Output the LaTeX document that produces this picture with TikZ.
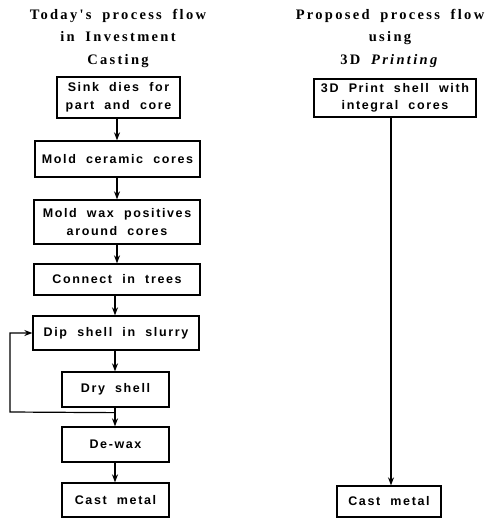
\documentclass[tikz,border=0pt]{standalone}
\usepackage{fontspec}
\setmainfont{Liberation Sans}
\newfontfamily\titlefont[LetterSpace=16,WordSpace=1.8]{Liberation Serif}
\newfontfamily\boxfont[LetterSpace=13,WordSpace=2.0]{Liberation Sans}
\usetikzlibrary{arrows.meta}
\begin{document}
\begin{tikzpicture}[x=1pt,y=-1pt,
  box/.style={draw, line width=1.3pt, align=center, inner sep=0pt,
    font=\boxfont\bfseries\fontsize{12.5}{17.5}\selectfont},
  ttl/.style={align=center, inner sep=0pt,
    font=\titlefont\bfseries\fontsize{14.5}{22.5}\selectfont},
  arr/.style={line width=1.2pt, -{Stealth[length=8pt,width=6pt]}}]
\useasboundingbox (0,0) rectangle (492,520);
% titles
\node[ttl] (t1) at (118,38) {Today's process flow\\in Investment\\Casting};
\node[ttl] (t2) at (390,38) {Proposed process flow\\using\\3D \textit{Printing}};
% left column
\node[box, minimum width=123pt, minimum height=41pt] (b1) at (118.5,97.5) {Sink dies for\\part and core};
\node[box, minimum width=165pt, minimum height=36pt] (b2) at (117.5,159) {Mold ceramic cores};
\node[box, minimum width=166pt, minimum height=44pt] (b3) at (117,222) {Mold wax positives\\around cores};
\node[box, minimum width=166pt, minimum height=31pt] (b4) at (117,279.5) {Connect in trees};
\node[box, minimum width=166pt, minimum height=34pt] (b5) at (116,333) {Dip shell in slurry};
\node[box, minimum width=107pt, minimum height=35pt] (b6) at (115.5,389.5) {Dry shell};
\node[box, minimum width=107pt, minimum height=35pt] (b7) at (115.5,444.5) {De-wax};
\node[box, minimum width=107pt, minimum height=34pt] (b8) at (115.5,500) {Cast metal};
% right column
\node[box, minimum width=162pt, minimum height=38pt] (r1) at (395,98) {3D Print shell with\\integral cores};
\node[box, minimum width=104pt, minimum height=31pt] (r2) at (389,501.5) {Cast metal};
% arrows
\coordinate (a1) at (117,0);
\draw[arr] (b1.south -| a1) -- (b2.north -| a1);
\draw[arr] (b2.south -| a1) -- (b3.north -| a1);
\draw[arr] (b3.south -| a1) -- (b4.north -| a1);
\coordinate (a2) at (115,0);
\draw[arr] (b4.south -| a2) -- (b5.north -| a2);
\draw[arr] (b5.south -| a2) -- (b6.north -| a2);
\draw[arr] (b6.south -| a2) -- (b7.north -| a2);
\draw[arr] (b7.south -| a2) -- (b8.north -| a2);
% feedback loop
\coordinate (lp) at ([yshift=-5pt]b6.south -| a2);
\coordinate (lc) at (10,412);
\draw[arr] (lp) -- (lc) |- (b5.west);
% right arrow
\coordinate (a3) at (391,0);
\draw[arr] (r1.south -| a3) -- (r2.north -| a3);
\end{tikzpicture}
\end{document}
